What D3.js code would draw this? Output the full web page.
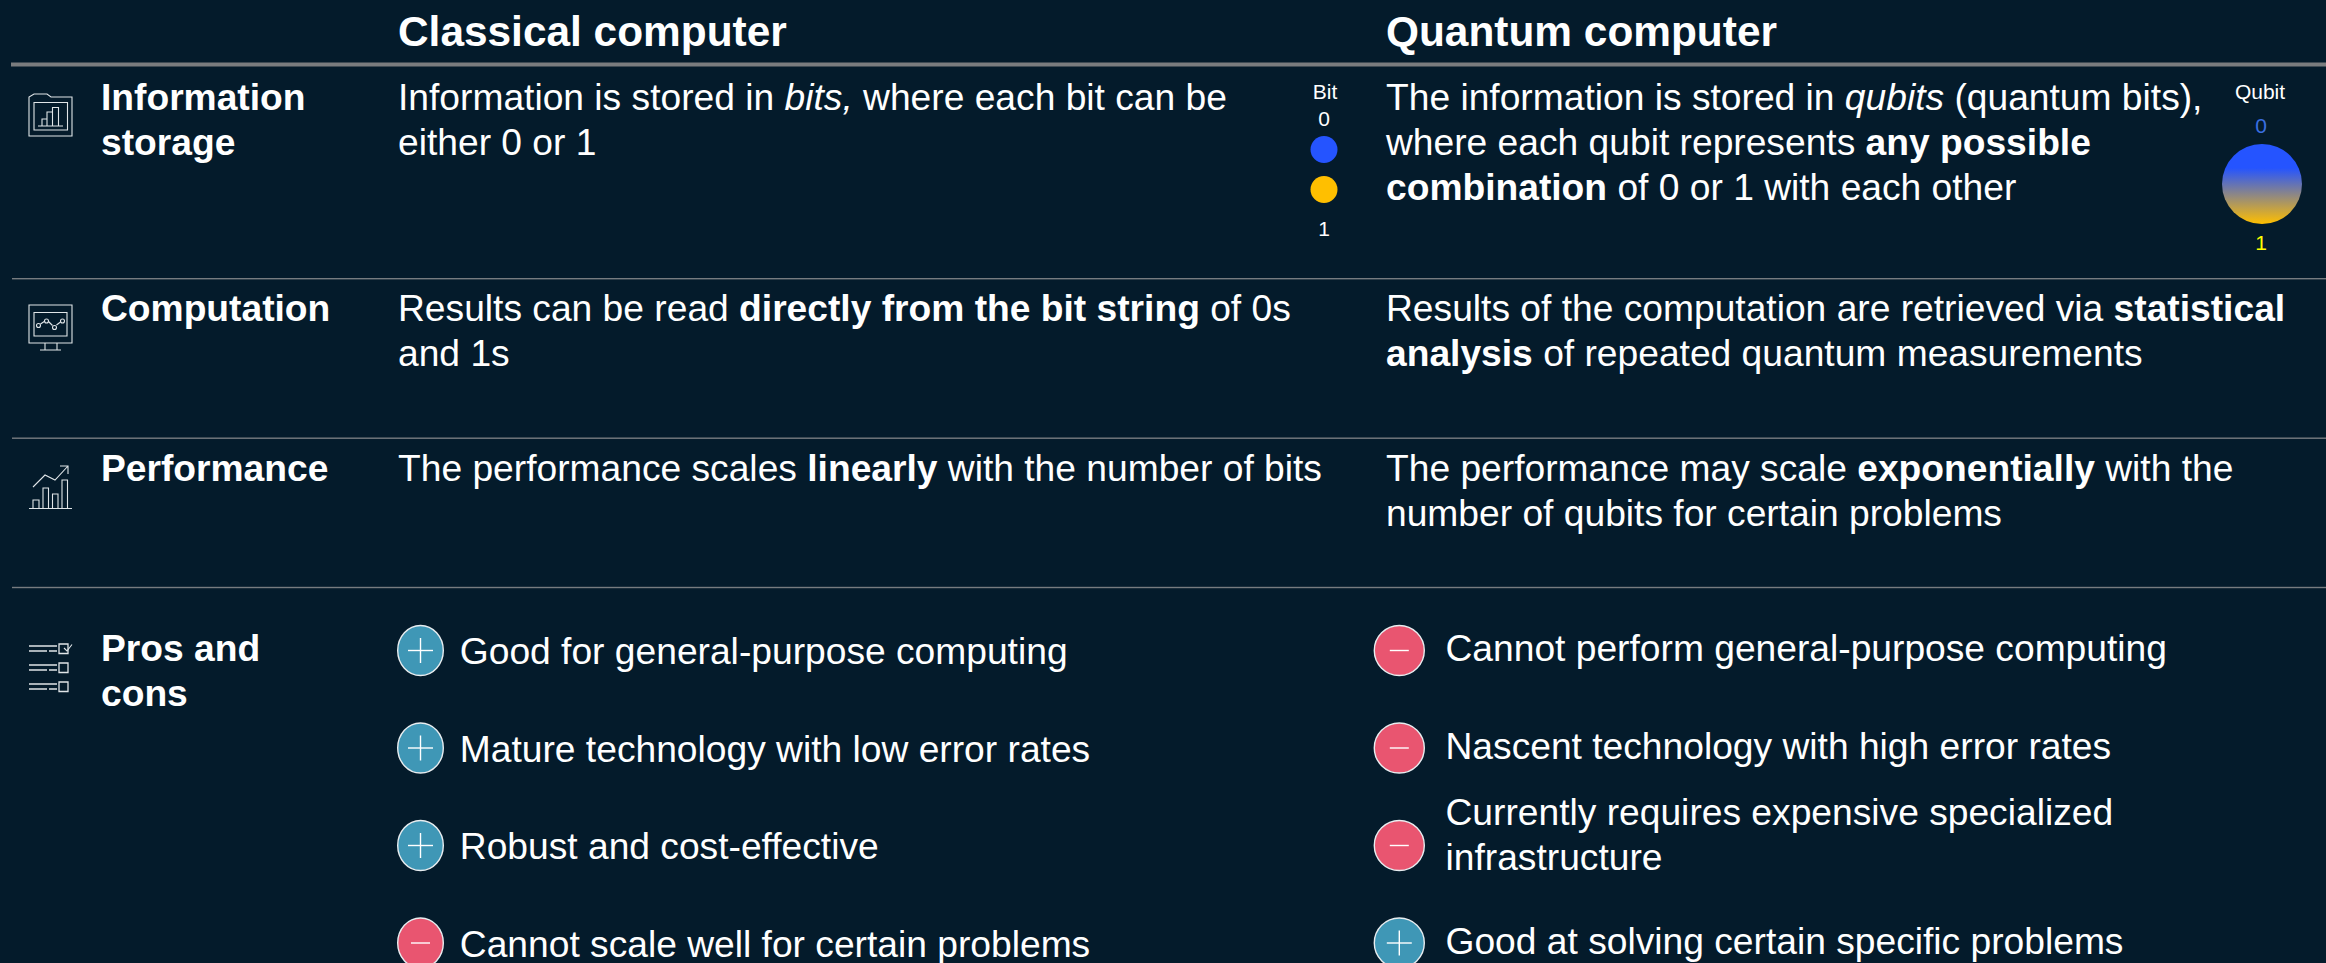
<!DOCTYPE html>
<html><head><meta charset="utf-8">
<script src="https://cdn.jsdelivr.net/npm/d3@7/dist/d3.min.js"></script>
<style>html,body{margin:0;padding:0;background:#041b2b;overflow:hidden}svg{display:block}text{font-family:"Liberation Sans",Arial,sans-serif;fill:#fff}</style>
</head><body><svg id="c" width="2326" height="963"></svg>
<script>
// [text, bold?, italic?] runs per line
const columnHeaders = ["Classical computer", "Quantum computer"];
const rowLabels = [["Information","storage"],["Computation"],["Performance"],["Pros and","cons"]];
const classicalText = [
 [[["Information is stored in "],["bits,","i"],[" where each bit can be"]],[["either 0 or 1"]]],
 [[["Results can be read "],["directly from the bit string","b"],[" of 0s"]],[["and 1s"]]],
 [[["The performance scales "],["linearly","b"],[" with the number of bits"]]]
];
const quantumText = [
 [[["The information is stored in "],["qubits","i"],[" (quantum bits),"]],[["where each qubit represents "],["any possible","b"]],[["combination","b"],[" of 0 or 1 with each other"]]],
 [[["Results of the computation are retrieved via "],["statistical","b"]],[["analysis","b"],[" of repeated quantum measurements"]]],
 [[["The performance may scale "],["exponentially","b"],[" with the"]],[["number of qubits for certain problems"]]]
];
const classicalPros = [["+",["Good for general-purpose computing"]],["+",["Mature technology with low error rates"]],["+",["Robust and cost-effective"]],["-",["Cannot scale well for certain problems"]]];
const quantumPros = [["-",["Cannot perform general-purpose computing"]],["-",["Nascent technology with high error rates"]],["-",["Currently requires expensive specialized","infrastructure"]],["+",["Good at solving certain specific problems"]]];

const svg = d3.select("#c");
const BG="#041b2b", FS=37.2, LH=45;
svg.append("rect").attr("width",2326).attr("height",963).attr("fill",BG);
const defs=svg.append("defs");
const g=defs.append("linearGradient").attr("id","qb").attr("x1",0).attr("y1",0).attr("x2",0).attr("y2",1);
g.append("stop").attr("offset","0.3").attr("stop-color","#2554ff");
g.append("stop").attr("offset","1").attr("stop-color","#ffbf00");

const colX={label:101,classical:398,quantum:1386};
const rowTop=[109.5,321,480.5,661];

function runs(y,x0,line,size){
  const t=svg.append("text").attr("x",x0).attr("y",y).attr("font-size",size||FS);
  line.forEach(r=>t.append("tspan").text(r[0]).attr("font-weight",r[1]==="b"?"700":"400").attr("font-style",r[1]==="i"?"italic":"normal").style("white-space","pre"));
}
// header
columnHeaders.forEach((h,i)=>svg.append("text").attr("x",i?colX.quantum:colX.classical).attr("y",46).attr("font-size",42.4).attr("font-weight",700).text(h));
svg.append("rect").attr("x",11).attr("y",62.5).attr("width",2315).attr("height",4).attr("fill","#7a7c7e");
[278.7,438.2,587.5].forEach(y=>svg.append("rect").attr("x",12).attr("y",y-0.7).attr("width",2314).attr("height",1.4).attr("fill","#777c80"));
// row labels
rowLabels.forEach((ls,i)=>ls.forEach((l,j)=>svg.append("text").attr("x",colX.label).attr("y",rowTop[i]+j*LH).attr("font-size",FS).attr("font-weight",700).text(l)));
// text
classicalText.forEach((ls,i)=>ls.forEach((l,j)=>runs(rowTop[i]+j*LH,colX.classical,l)));
quantumText.forEach((ls,i)=>ls.forEach((l,j)=>runs(rowTop[i]+j*LH,colX.quantum,l)));
// pros / cons
const proY=d3.scaleLinear().domain([0,3]).range([650.5,943]);
function badge(cx,cy,k,rx){
  svg.append("ellipse").attr("cx",cx).attr("cy",cy).attr("rx",rx).attr("ry",25).attr("fill",k==="+"?"#3f97b6":"#e95570").attr("stroke","#e8edf0").attr("stroke-width",1.4);
  const l=k==="+"?12.5:9.5;
  svg.append("line").attr("x1",cx-l).attr("x2",cx+l).attr("y1",cy).attr("y2",cy).attr("stroke","#fff").attr("stroke-width",1.4);
  if(k==="+")svg.append("line").attr("x1",cx).attr("x2",cx).attr("y1",cy-l).attr("y2",cy+l).attr("stroke","#fff").attr("stroke-width",1.4);
}
classicalPros.forEach((d,i)=>{badge(420.5,proY(i),d[0],22.8);
  svg.append("text").attr("x",459.8).attr("y",proY(i)+13.5).attr("font-size",FS).text(d[1][0]);});
quantumPros.forEach((d,i)=>{badge(1399.3,proY(i),d[0],25);
  const n=d[1].length;
  d[1].forEach((s,j)=>svg.append("text").attr("x",1445.5).attr("y",proY(i)+10.5+(n>1?-9:0)+(j-(n-1)/2)*LH).attr("font-size",FS).text(s));});
// Bit
function small(cx,y,t,fill,fs){svg.append("text").attr("x",cx).attr("y",y).attr("text-anchor","middle").attr("font-size",fs||21).style("fill",fill||"#fff").text(t);}
small(1325,99,"Bit");small(1324,126,"0");small(1324,236,"1");
svg.append("circle").attr("cx",1324).attr("cy",149.5).attr("r",13.5).attr("fill","#2554ff");
svg.append("circle").attr("cx",1324).attr("cy",189.5).attr("r",13.5).attr("fill","#ffbf00");
// Qubit
small(2260,99,"Qubit");small(2261,133,"0","#3a6fe0");small(2261,250,"1","#ffff00");
svg.append("circle").attr("cx",2262).attr("cy",184).attr("r",40).attr("fill","url(#qb)");
// icons
const ic=svg.append("g").attr("fill","none").attr("stroke","#e0e5e8").attr("stroke-width",1.1);
function P(d,w){const p=ic.append("path").attr("d",d);if(w)p.attr("stroke-width",w);}
// folder
P("M29 136V97L34 94H47L51 97H72V136Z");P("M34 102.5H67.5V130H34Z");P("M38 126H63M42 126V119H47M47 126V112H52.5V126M52.5 113V107.5H58.5V126");
// monitor
P("M29 305H72V343H29Z");P("M34 312.5H67V336H34Z");P("M45 343V350M57 343V350M40 350H61");
P("M40.5 324L45 321M48.5 321.5L52.5 325.5M56.5 325L60.5 322");
[[38.5,325.5],[46.5,321],[54.5,327.5],[62.5,321]].forEach(p=>ic.append("circle").attr("cx",p[0]).attr("cy",p[1]).attr("r",2));
// performance
P("M29 508.5H72");P("M33 508.5V500H39V508.5M43 508.5V488H48.5V508.5M52.5 508.5V494H58V508.5M62 508.5V480H67.5V508.5");
P("M33 487L45 475L55 480L68 466M60 466H68V474");
// list
[0,19,38].forEach((dy,i)=>{
  P(`M29 ${646+dy}H57M29 ${651+dy}H47M49 ${651+dy}H57`,1.5);
  P(`M59 ${644+dy}H68V${653.5+dy}H59Z`,1.3);
});
P("M64 648L67 651L72 644.5",1.1);
</script></body></html>
